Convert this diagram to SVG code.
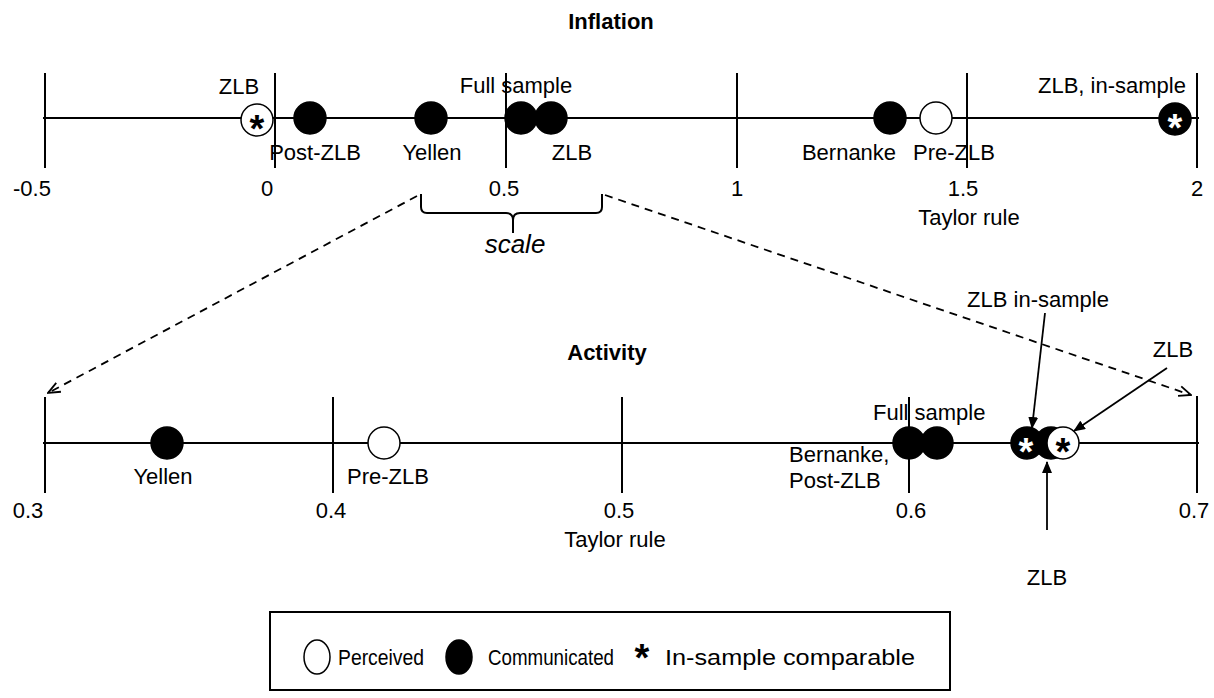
<svg xmlns="http://www.w3.org/2000/svg" width="1214" height="698" viewBox="0 0 1214 698">
<style>
text{font-family:"Liberation Sans",Arial,sans-serif;font-size:22px;fill:#000}
.t{font-weight:bold}
.m{text-anchor:middle}
.ax{stroke:#000;stroke-width:2;fill:none}
.f{fill:#000;stroke:#000;stroke-width:1.5}
.o{fill:#fff;stroke:#000;stroke-width:1.5}
.st{font-size:38px;font-weight:bold;text-anchor:middle}
.ws{fill:#fff}
</style>
<defs>
<marker id="ah" markerWidth="12" markerHeight="10" refX="11" refY="5" orient="auto" markerUnits="userSpaceOnUse">
<path d="M0,0 L12,5 L0,10 Z" fill="#000"/>
</marker>
<marker id="av" markerWidth="14" markerHeight="12" refX="13" refY="6" orient="auto" markerUnits="userSpaceOnUse">
<path d="M1,1 L13,6 L1,11" fill="none" stroke="#000" stroke-width="1.8"/>
</marker>
</defs>
<rect width="1214" height="698" fill="#fff"/>

<g id="inflation-axis">
<text class="t m" x="611" y="29">Inflation</text>
<line class="ax" x1="43" y1="118" x2="1199" y2="118"/>
<line class="ax" x1="45" y1="73" x2="45" y2="168"/>
<line class="ax" x1="275" y1="73" x2="275" y2="168"/>
<line class="ax" x1="506" y1="73" x2="506" y2="168"/>
<line class="ax" x1="737" y1="73" x2="737" y2="168"/>
<line class="ax" x1="967" y1="73" x2="967" y2="168"/>
<line class="ax" x1="1197" y1="73" x2="1197" y2="168"/>
<text class="m" x="32" y="196">-0.5</text>
<text class="m" x="267" y="196">0</text>
<text class="m" x="504" y="196">0.5</text>
<text class="m" x="737" y="196">1</text>
<text class="m" x="963" y="196">1.5</text>
<text class="m" x="1197" y="196">2</text>
<text class="m" x="969" y="225">Taylor rule</text>
</g>

<g id="inf-zlb"><circle class="o" cx="257" cy="120" r="16"/><text class="st" x="257" y="142">*</text><text class="m" x="239" y="94">ZLB</text></g>
<g id="inf-postzlb"><circle class="f" cx="310" cy="118" r="16"/><text class="m" x="315" y="160">Post-ZLB</text></g>
<g id="inf-yellen"><circle class="f" cx="431" cy="118" r="16"/><text class="m" x="432" y="160">Yellen</text></g>
<g id="inf-full"><circle class="f" cx="521" cy="118" r="16"/><text class="m" x="516" y="93">Full sample</text></g>
<g id="inf-zlb2"><circle class="f" cx="551" cy="118" r="16"/><text class="m" x="572" y="160">ZLB</text></g>
<g id="inf-bernanke"><circle class="f" cx="890" cy="118" r="16"/><text class="m" x="849" y="160">Bernanke</text></g>
<g id="inf-prezlb"><circle class="o" cx="936" cy="118" r="16"/><text class="m" x="954" y="160">Pre-ZLB</text></g>
<g id="inf-zlbin"><circle class="f" cx="1175" cy="119" r="16"/><text class="st ws" x="1175" y="141">*</text><text class="m" x="1112" y="93">ZLB, in-sample</text></g>

<g id="scale">
<path class="ax" d="M421,194 L421,207 Q421,213 427,213 L506,213 Q513,213 513,220 L513,233 M513,220 Q513,213 520,213 L596,213 Q602,213 602,207 L602,194"/>
<text class="m" x="515" y="253" style="font-style:italic;font-size:26px">scale</text>
</g>

<g id="activity-axis">
<text class="t m" x="607" y="360">Activity</text>
<line class="ax" x1="43" y1="443" x2="1199" y2="443"/>
<line class="ax" x1="45" y1="397" x2="45" y2="493"/>
<line class="ax" x1="333" y1="397" x2="333" y2="493"/>
<line class="ax" x1="622" y1="397" x2="622" y2="493"/>
<line class="ax" x1="909" y1="397" x2="909" y2="493"/>
<line class="ax" x1="1197" y1="396" x2="1197" y2="493"/>
<text class="m" x="28" y="518">0.3</text>
<text class="m" x="331" y="518">0.4</text>
<text class="m" x="619" y="518">0.5</text>
<text class="m" x="911" y="518">0.6</text>
<text class="m" x="1194" y="518">0.7</text>
<text class="m" x="615" y="547">Taylor rule</text>
</g>

<g id="act-yellen"><circle class="f" cx="167" cy="443" r="16"/><text class="m" x="163" y="484">Yellen</text></g>
<g id="act-prezlb"><circle class="o" cx="384" cy="443" r="16"/><text x="347" y="484">Pre-ZLB</text></g>
<g id="act-bernanke"><circle class="f" cx="909" cy="443" r="16"/><text x="789" y="462">Bernanke,</text><text x="789" y="488">Post-ZLB</text></g>
<g id="act-full"><circle class="f" cx="937" cy="443" r="16"/><text x="873" y="420">Full sample</text></g>
<g id="act-zlbin"><circle class="f" cx="1027" cy="443" r="16"/><text class="st ws" x="1026" y="465">*</text><text class="m" x="1038" y="307">ZLB in-sample</text></g>
<g id="act-zlb-c"><circle class="f" cx="1051" cy="443" r="16"/><text class="m" x="1047" y="585">ZLB</text></g>
<g id="act-zlb-p"><circle class="o" cx="1063" cy="443" r="16"/><text class="st" x="1063" y="465">*</text><text class="m" x="1173" y="357">ZLB</text></g>

<g id="connectors">
<line x1="417" y1="196" x2="48" y2="393" stroke="#000" stroke-width="1.8" stroke-dasharray="8,6" marker-end="url(#av)"/>
<line x1="605" y1="195" x2="1191" y2="395" stroke="#000" stroke-width="1.8" stroke-dasharray="8,6" marker-end="url(#av)"/>
<line x1="1045" y1="313" x2="1032" y2="428" stroke="#000" stroke-width="1.8" marker-end="url(#ah)"/>
<line x1="1167" y1="368" x2="1074" y2="431" stroke="#000" stroke-width="1.8" marker-end="url(#ah)"/>
<line x1="1047" y1="530" x2="1047" y2="462" stroke="#000" stroke-width="1.8" marker-end="url(#ah)"/>
</g>

<g id="legend">
<rect x="270" y="612" width="680" height="78" fill="#fff" stroke="#000" stroke-width="2"/>
<ellipse class="o" cx="317" cy="657" rx="13" ry="17"/>
<text x="338" y="665" textLength="86" lengthAdjust="spacingAndGlyphs">Perceived</text>
<ellipse class="f" cx="459" cy="657" rx="13" ry="17"/>
<text x="488" y="665" textLength="126" lengthAdjust="spacingAndGlyphs">Communicated</text>
<text class="st" x="642" y="671">*</text>
<text x="665" y="665" textLength="250" lengthAdjust="spacingAndGlyphs">In-sample comparable</text>
</g>
</svg>
